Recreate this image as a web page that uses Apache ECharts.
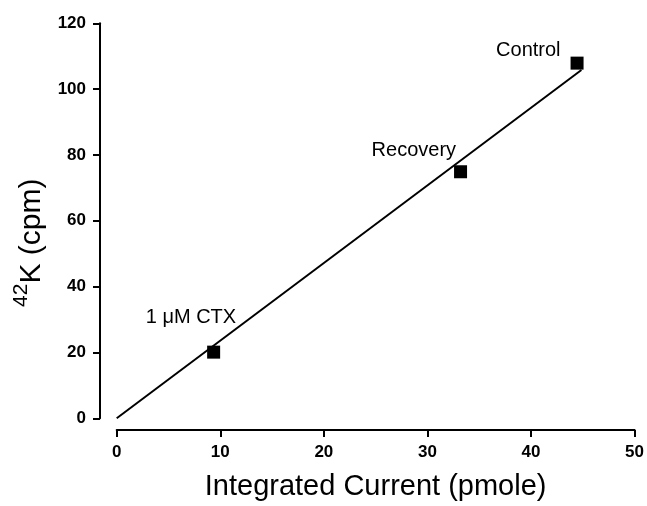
<!DOCTYPE html>
<html>
<head>
<meta charset="utf-8">
<script src="https://cdn.jsdelivr.net/npm/echarts@6/dist/echarts.min.js"></script>
<style>
  html, body { margin: 0; padding: 0; background: #fff; }
  #chart { width: 647px; height: 506px; }
</style>
</head>
<body>
<div id="chart"></div>
<script>
// Measured points: integrated current (pmole) vs 42K efflux (cpm)
const pointNames = ['1 \u03bcM CTX', 'Recovery', 'Control'];
const currentPmole = [9.36, 33.2, 44.45];
const potassiumCpm = [20.1, 74.9, 107.9];

// Regression line through the origin
const fitX = [0, 44.87];
const fitY = [0, 105.8];

// Axis ticks
const xTicks = [0, 10, 20, 30, 40, 50];
const yTicks = [0, 20, 40, 60, 80, 100, 120];

// Label placement per point (offset from the marker)
const labelOffsets = [[34, -35], [7, -21], [-5, -13]];

const FONT = 'Liberation Sans, Arial, Helvetica, sans-serif';

const chart = echarts.init(document.getElementById('chart'), null, { renderer: 'canvas' });

const axisCommon = {
  type: 'value',
  axisLine: { show: true, onZero: false, lineStyle: { color: '#000', width: 2 } },
  axisTick: { show: true, length: 7, lineStyle: { color: '#000', width: 2 } },
  axisLabel: { color: '#000', fontFamily: FONT, fontWeight: 'bold', fontSize: 17, margin: 14 },
  splitLine: { show: false }
};

chart.setOption({
  animation: false,
  backgroundColor: '#fff',
  grid: { left: 116.7, right: 11, top: 23.3, bottom: 82.7, containLabel: false },
  xAxis: Object.assign({}, axisCommon, {
    min: xTicks[0], max: xTicks[xTicks.length - 1], interval: xTicks[1] - xTicks[0],
    offset: 11.7,
    name: 'Integrated Current (pmole)',
    nameLocation: 'middle',
    nameGap: 42,
    nameTextStyle: { color: '#000', fontFamily: FONT, fontSize: 29 }
  }),
  yAxis: Object.assign({}, axisCommon, {
    min: yTicks[0], max: yTicks[yTicks.length - 1], interval: yTicks[1] - yTicks[0],
    offset: 16.7,
    name: '{sup|42}{main|K (cpm)}',
    nameLocation: 'middle',
    nameRotate: 90,
    nameGap: 52,
    nameTextStyle: {
      color: '#000', fontFamily: FONT, fontSize: 30,
      padding: [0, 44, 0, 0],
      rich: {
        sup: { fontFamily: FONT, fontSize: 21, color: '#000', verticalAlign: 'top', lineHeight: 36 },
        main: { fontFamily: FONT, fontSize: 30, color: '#000', verticalAlign: 'bottom', lineHeight: 36 }
      }
    }
  }),
  series: [
    {
      type: 'line',
      data: fitX.map((x, i) => [x, fitY[i]]),
      showSymbol: false,
      lineStyle: { color: '#000', width: 2, opacity: 1 },
      silent: true,
      z: 2
    },
    {
      type: 'scatter',
      symbol: 'rect',
      symbolSize: 13,
      itemStyle: { color: '#000', opacity: 1 },
      z: 3,
      label: { color: '#000', opacity: 1 },
      data: currentPmole.map((x, i) => ({
        value: [x, potassiumCpm[i]],
        label: {
          show: true,
          formatter: pointNames[i],
          position: 'left',
          distance: 5,
          offset: labelOffsets[i],
          color: '#000',
          opacity: 1,
          fontFamily: FONT,
          fontSize: 20
        }
      }))
    }
  ]
});
</script>
</body>
</html>
